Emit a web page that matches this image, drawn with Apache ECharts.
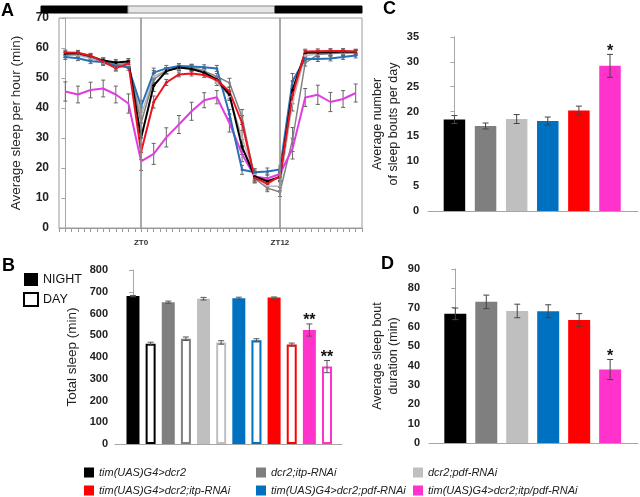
<!DOCTYPE html>
<html><head><meta charset="utf-8">
<script src="https://cdn.jsdelivr.net/npm/echarts@6/dist/echarts.min.js"></script>
<style>html,body{margin:0;padding:0;background:#fff}#c{width:640px;height:497px}</style>
</head><body><div id="c"></div>
<script>
// ---------- data ----------
// genotypes in bar order (panels B, C, D)
const genotypes = ['tim(UAS)G4>dcr2','dcr2;itp-RNAi','dcr2;pdf-RNAi','tim(UAS)G4>dcr2;pdf-RNAi','tim(UAS)G4>dcr2;itp-RNAi','tim(UAS)G4>dcr2;itp/pdf-RNAi'];
const legendOrder = [0,1,2,4,3,5];
const barColors = ['#000000','#7f7f7f','#bfbfbf','#0070c0','#ff0000','#ff33cc'];
const lineColors = ['#000000','#808080','#b8b8b8','#2a70b8','#e8141e','#e03ee0'];

// Panel A: average sleep per hour (24 hourly bins; ZT0 at bin 6, ZT12 at bin 17)
const hourTickLabels = {6:'ZT0', 17:'ZT12'};
const sleepBlack = [58.2,58.3,57.3,55.8,55.2,55.5,30.0,47.5,52.3,53.5,53.0,51.8,49.5,44.5,27.0,17.2,15.6,17.0,46.0,58.4,58.5,58.6,58.8,58.7];
const sleepDgrey = [57.6,57.9,57.0,55.8,54.5,54.8,35.0,49.5,52.5,53.3,53.3,52.3,50.5,48.4,37.0,16.5,13.3,12.0,29.5,55.0,57.8,58.2,58.3,58.4];
const sleepLgrey = [57.8,57.6,56.6,55.1,53.6,54.2,37.5,50.5,52.5,53.3,53.7,52.5,48.5,44.0,30.0,17.8,13.9,13.9,42.0,57.5,58.0,58.2,58.3,58.4];
const sleepBlue  = [57.0,56.6,55.6,55.3,54.1,53.6,40.5,51.8,53.2,54.0,53.8,53.6,53.2,38.0,19.4,18.6,18.8,19.5,49.0,56.4,56.3,56.5,57.0,57.5];
const sleepRed   = [58.5,58.4,57.4,55.5,53.3,54.8,25.3,42.0,48.5,51.2,51.5,51.0,49.3,45.5,35.0,16.7,14.8,17.3,44.4,58.8,58.9,59.0,59.0,58.8];
const sleepPink  = [45.5,44.5,46.0,46.5,44.5,41.5,22.2,24.7,30.2,34.5,38.9,42.6,43.6,35.0,24.6,17.2,16.5,18.0,26.5,43.5,44.4,42.0,43.0,45.0];
const errBlack = [0.8,0.8,0.8,0.9,1.0,1.0,2.5,2.0,1.0,0.8,0.8,0.8,1.0,1.5,2.5,1.5,1.2,1.5,3.0,0.8,0.8,0.8,0.8,0.8];
const errDgrey = [0.8,0.8,0.8,0.9,1.2,1.2,2.5,2.0,1.0,0.8,0.8,0.8,1.0,1.5,2.5,1.5,1.2,1.5,4.0,1.0,0.8,0.8,0.8,0.8];
const errLgrey = [0.8,0.8,0.8,0.9,1.0,1.0,2.5,2.0,1.0,0.8,0.8,0.8,1.0,1.5,2.5,1.5,1.2,1.5,3.0,0.8,0.8,0.8,0.8,0.8];
const errBlue  = [0.8,0.8,0.8,0.9,1.0,1.0,2.0,1.5,1.0,0.8,0.8,0.8,1.0,1.5,1.5,1.2,1.2,1.2,2.5,0.8,0.8,0.8,0.8,0.8];
const errRed   = [0.8,0.8,0.8,0.9,1.0,1.0,2.5,2.0,1.0,0.8,0.8,0.8,1.0,1.5,2.5,1.5,1.2,1.5,3.0,0.8,0.8,0.8,0.8,0.8];
const errPink  = [3.2,2.8,2.6,2.8,2.8,3.2,3.0,3.5,3.2,3.0,3.0,2.5,2.2,3.0,2.5,1.5,1.5,2.0,3.5,3.0,3.2,3.2,2.8,3.0];
const lightSchedule = [[-0.5,6,'dark'],[6,17,'light'],[17,23.5,'dark']];

// Panel B: total sleep (min)
const nightSleep = [680,652,668,670,673,524];
const nightErr   = [3,5,6,5,3,28];
const daySleep   = [461,484,467,477,457,356];
const dayErr     = [7,8,8,7,7,28];
const nightSig   = ['','','','','','**'];
const daySig     = ['','','','','','**'];

// Panel C: average number of sleep bouts per day
const boutNumber = [18.4,17.1,18.5,18.1,20.2,29.2];
const boutNumberErr = [0.8,0.6,0.9,0.8,0.9,2.3];
const boutNumberSig = ['','','','','','*'];

// Panel D: average sleep bout duration (min)
const boutDuration = [66.8,73.0,68.3,68.2,63.6,38.0];
const boutDurationErr = [3.0,3.5,3.5,3.3,3.3,5.2];
const boutDurationSig = ['','','','','','*'];

// ---------- chart ----------
const FONT = '"Liberation Sans", Arial, sans-serif';
const axisGrey = '#a6a6a6';

function errRenderer(sigList, capHalf, color){
  return function(params, api){
    const x = api.value(0), y = api.value(1), e = api.value(2);
    const hi = api.coord([x, y + e]), lo = api.coord([x, y - e]);
    const st = {stroke: color, lineWidth: 1};
    const ch = [
      {type:'line', shape:{x1:hi[0],y1:hi[1],x2:lo[0],y2:lo[1]}, style:st},
      {type:'line', shape:{x1:hi[0]-capHalf,y1:hi[1],x2:hi[0]+capHalf,y2:hi[1]}, style:st},
      {type:'line', shape:{x1:lo[0]-capHalf,y1:lo[1],x2:lo[0]+capHalf,y2:lo[1]}, style:st}
    ];
    const s = sigList ? sigList[params.dataIndex] : '';
    if (s) ch.push({type:'text', style:{text:s, x:hi[0], y:hi[1]-3, align:'center', verticalAlign:'middle',
      fontSize:16, fontWeight:'bold', fontFamily:FONT, fill:'#111'}});
    return {type:'group', children: ch};
  };
}

const lineSets = [
  {v: sleepLgrey, e: errLgrey, c: 2, w: 1.5},
  {v: sleepDgrey, e: errDgrey, c: 1, w: 1.5},
  {v: sleepPink,  e: errPink,  c: 5, w: 2},
  {v: sleepBlue,  e: errBlue,  c: 3, w: 2},
  {v: sleepBlack, e: errBlack, c: 0, w: 2},
  {v: sleepRed,   e: errRed,   c: 4, w: 2}
];

const series = [];
lineSets.forEach(ls => {
  series.push({
    type:'custom', xAxisIndex:0, yAxisIndex:0, silent:true, z:1,
    renderItem: errRenderer(null, 2, '#666'),
    data: ls.v.map((v,i)=>[i, v, ls.e[i]])
  });
});
lineSets.forEach((ls, k) => {
  const s = {
    type:'line', name: genotypes[ls.c], xAxisIndex:0, yAxisIndex:0, z:3,
    data: ls.v.map((v,i)=>[i, v]),
    symbol: ls.c === 5 ? 'none' : 'circle', symbolSize: 3, showSymbol: ls.c !== 5,
    lineStyle:{color: lineColors[ls.c], width: ls.w},
    itemStyle:{color: lineColors[ls.c]},
    silent:true
  };
  if (k === 0) {
    s.markLine = {silent:true, symbol:'none', label:{show:false},
      lineStyle:{color:'#8c8c8c', width:1.5, type:'solid'},
      data: Object.keys(hourTickLabels).map(h => ({xAxis: Number(h)}))};
  }
  series.push(s);
});
series.push({
  type:'custom', xAxisIndex:1, yAxisIndex:1, silent:true,
  renderItem: function(params, api){
    const a = api.coord([api.value(0), 1]), b = api.coord([api.value(1), 0]);
    const dark = lightSchedule[params.dataIndex][2] === 'dark';
    return {type:'rect', shape:{x:a[0], y:a[1], width:b[0]-a[0], height:b[1]-a[1]},
      style:{fill: dark ? '#000' : '#e6e6e6', stroke: dark ? '#000' : '#888', lineWidth: 1}};
  },
  data: lightSchedule.map(p => [p[0], p[1]])
});
// Panel B bars (night on xAxis 2, day on xAxis 5: same grid, same scale)
series.push({
  type:'bar', name:'NIGHT', xAxisIndex:2, yAxisIndex:2, barWidth:13, silent:true,
  itemStyle:{color:'#000'},
  data: nightSleep.map((v,i)=>({value:[2*i, v], itemStyle:{color: barColors[i]}}))
});
series.push({
  type:'bar', name:'DAY', xAxisIndex:5, yAxisIndex:2, barWidth:10, silent:true,
  itemStyle:{color:'#fff', borderColor:'#000', borderWidth:2},
  data: daySleep.map((v,i)=>({value:[2*i+1, v], itemStyle:{color:'#fff', borderColor: barColors[i], borderWidth:2}}))
});
series.push({type:'custom', xAxisIndex:2, yAxisIndex:2, silent:true, z:5,
  renderItem: errRenderer(nightSig, 3, '#555'), data: nightSleep.map((v,i)=>[2*i, v, nightErr[i]])});
series.push({type:'custom', xAxisIndex:2, yAxisIndex:2, silent:true, z:5,
  renderItem: errRenderer(daySig, 3, '#555'), data: daySleep.map((v,i)=>[2*i+1, v, dayErr[i]])});
// Panel C
series.push({type:'bar', xAxisIndex:3, yAxisIndex:3, barWidth:21.5, silent:true,
  data: boutNumber.map((v,i)=>({value:[i, v], itemStyle:{color: barColors[i]}}))});
series.push({type:'custom', xAxisIndex:3, yAxisIndex:3, silent:true, z:5,
  renderItem: errRenderer(boutNumberSig, 3, '#444'), data: boutNumber.map((v,i)=>[i, v, boutNumberErr[i]])});
// Panel D
series.push({type:'bar', xAxisIndex:4, yAxisIndex:4, barWidth:22, silent:true,
  data: boutDuration.map((v,i)=>({value:[i, v], itemStyle:{color: barColors[i]}}))});
series.push({type:'custom', xAxisIndex:4, yAxisIndex:4, silent:true, z:5,
  renderItem: errRenderer(boutDurationSig, 3, '#444'), data: boutDuration.map((v,i)=>[i, v, boutDurationErr[i]])});

const valLabel = {fontSize:11, fontWeight:'bold', color:'#222', fontFamily:FONT};
function yAx(gi, max, interval, name, gap, margin, fs){
  return {type:'value', gridIndex:gi, min:0, max:max, interval:interval,
    axisLine:{show:true, lineStyle:{color:axisGrey}},
    axisTick:{show:true, length:4, lineStyle:{color:axisGrey}},
    splitLine:{show:false},
    axisLabel:Object.assign({}, valLabel, {margin:margin, fontSize:fs}),
    name:name, nameLocation:'middle', nameGap:gap,
    nameTextStyle:{fontSize: name.indexOf('\n')>=0 ? 12.5 : 13.5, lineHeight:16, color:'#222', fontFamily:FONT}};
}
function xBarAx(gi, min, max, show){
  return {type:'value', gridIndex:gi, min:min, max:max, show:show,
    axisLine:{show:true, onZero:false, lineStyle:{color:axisGrey}},
    axisTick:{show:false}, axisLabel:{show:false}, splitLine:{show:false}};
}

const legends = legendOrder.map((gi,pos)=>({
  data:[{name:genotypes[gi], icon:'rect', itemStyle:{color: barColors[gi], borderWidth:0}}],
  left: [84,256,413][pos%3], top: pos<3 ? 467 : 485,
  itemWidth:10, itemHeight:10, padding:0, selectedMode:false,
  textStyle:{fontSize:11, fontStyle:'italic', color:'#222', fontFamily:FONT}
}));
legends.push({
  data:[{name:'NIGHT', icon:'rect', itemStyle:{color:'#000'}},
        {name:'DAY', icon:'rect', itemStyle:{color:'#fff', borderColor:'#000', borderWidth:2}}],
  orient:'vertical', left:23, top:273, itemWidth:14, itemHeight:13, itemGap:6, padding:0,
  selectedMode:false, textStyle:{fontSize:12.5, color:'#111', fontFamily:FONT}
});

const option = {
  animation:false,
  backgroundColor:'#fff',
  textStyle:{fontFamily:FONT},
  title:[
    {text:'A', left:1, top:2},
    {text:'B', left:2, top:257},
    {text:'C', left:383, top:0},
    {text:'D', left:381, top:255}
  ].map(t=>Object.assign(t,{padding:0, textStyle:{fontSize:18, fontWeight:'bold', color:'#000', fontFamily:FONT}})),
  legend: legends,
  grid:[
    {left:41, right:278, top:18, bottom:269, show:true, borderColor:'#9a9a9a', borderWidth:1},
    {left:41, right:278, top:6, height:7},
    {left:115, right:298, top:270, bottom:53},
    {left:428, right:2, top:37, bottom:286},
    {left:429, right:2, top:269, bottom:54}
  ],
  xAxis:[
    {type:'value', gridIndex:0, min:-0.5, max:23.5, interval:0.5,
      axisLine:{show:true, onZero:false, lineStyle:{color:'#9a9a9a'}},
      axisTick:{show:true, length:4, lineStyle:{color:'#9a9a9a'}},
      splitLine:{show:false},
      axisLabel:{margin:11, fontSize:8, fontWeight:'bold', color:'#333', fontFamily:FONT,
        formatter: v => hourTickLabels[v] || ''}},
    {type:'value', gridIndex:1, min:-0.5, max:23.5, show:false},
    xBarAx(2, -1.02, 11.85, true),
    xBarAx(3, -0.85, 5.9, true),
    xBarAx(4, -0.85, 5.9, true),
    xBarAx(2, -1.02, 11.85, false)
  ],
  yAxis:[
    yAx(0, 70, 10, 'Average sleep per hour (min)', 35, 10, 12),
    {type:'value', gridIndex:1, min:0, max:1, show:false},
    yAx(2, 800, 100, 'Total sleep (min)', 35, 7, 11),
    yAx(3, 35, 5, 'Average number\nof sleep bouts per day', 26, 9, 11),
    yAx(4, 90, 10, 'Average sleep bout\nduration (min)', 27, 9, 11)
  ],
  series: series
};
const chart = echarts.init(document.getElementById('c'), null, {renderer:'canvas'});
chart.setOption(option);
</script>
</body></html>
